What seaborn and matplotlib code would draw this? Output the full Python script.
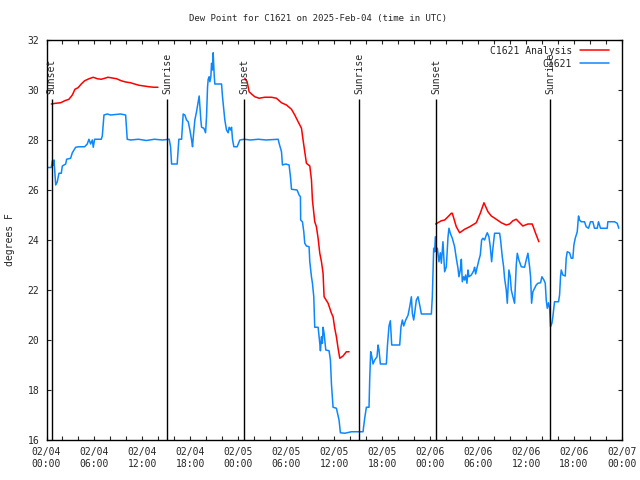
import pandas as pd
import numpy as np
import seaborn as sns
import matplotlib.pyplot as plt
from matplotlib.ticker import MultipleLocator

# hours since 02/04 00:00 UTC
sunset_hours = [0.65, 24.7, 48.75]
sunrise_hours = [15.1, 39.1, 63.05]

xtick_labels = ["02/04\n00:00", "02/04\n06:00", "02/04\n12:00", "02/04\n18:00",
                "02/05\n00:00", "02/05\n06:00", "02/05\n12:00", "02/05\n18:00",
                "02/06\n00:00", "02/06\n06:00", "02/06\n12:00", "02/06\n18:00",
                "02/07\n00:00"]

# C1621 observations
obs_hours = [0.19, 0.60, 0.73, 0.85, 0.94, 1.15, 1.35, 1.56, 1.85, 1.98, 2.40, 2.52, 3.02, 3.23,
             3.65, 4.06, 4.77, 5.10, 5.31, 5.52, 5.73, 5.85, 6.02, 6.85, 6.98, 7.19, 7.60, 8.02,
             9.27, 9.90, 10.10, 10.52, 11.5, 12.5, 13.5, 14.5, 15.35, 15.52, 15.65, 16.35, 16.56,
             16.90, 17.10, 17.31, 17.52, 17.73, 17.94, 18.15, 18.27, 18.35, 18.56, 18.77, 18.98,
             19.10, 19.19, 19.31, 19.40, 19.69, 19.90, 20.02, 20.15, 20.23, 20.35, 20.44, 20.56,
             20.65, 20.77, 20.85, 20.98, 21.06, 21.90, 22.02, 22.31, 22.52, 22.73, 22.85, 23.02,
             23.15, 23.27, 23.44, 23.85, 24.19, 24.73, 25.5, 26.5, 27.5, 28.98, 29.10, 29.40,
             29.52, 29.94, 30.35, 30.52, 30.65, 31.35, 31.60, 31.77, 31.80, 32.02, 32.19, 32.31,
             32.52, 32.85, 32.94, 33.15, 33.27, 33.44, 33.56, 33.98, 34.19, 34.27, 34.40, 34.52,
             34.60, 34.73, 34.94, 35.35, 35.52, 35.65, 35.85, 36.27, 36.60, 36.77, 37.31, 38.15,
             39.60, 39.81, 40.02, 40.35, 40.44, 40.56, 40.69, 40.85, 41.06, 41.35, 41.48, 41.60,
             41.77, 42.52, 42.65, 42.85, 43.02, 43.19, 44.19, 44.35, 44.52, 44.69, 44.94, 45.23,
             45.44, 45.65, 45.77, 45.94, 46.06, 46.27, 46.48, 46.69, 46.90, 48.15, 48.27, 48.44,
             48.56, 48.65, 48.77, 48.90, 49.10, 49.27, 49.40, 49.60, 49.81, 50.02, 50.23, 50.35,
             50.52, 50.77, 51.06, 51.27, 51.48, 51.60, 51.77, 51.90, 52.02, 52.19, 52.31, 52.44,
             52.60, 52.73, 52.85, 53.15, 53.44, 53.56, 53.69, 53.85, 54.10, 54.27, 54.44, 54.60,
             54.81, 55.02, 55.15, 55.35, 55.52, 55.69, 55.85, 56.06, 56.69, 56.81, 57.02, 57.19,
             57.31, 57.52, 57.65, 57.85, 58.02, 58.15, 58.35, 58.56, 58.77, 58.90, 59.10, 59.40,
             59.81, 60.02, 60.23, 60.44, 60.56, 60.69, 60.85, 61.06, 61.27, 61.48, 61.81, 61.98,
             62.23, 62.40, 62.52, 62.65, 62.81, 62.94, 63.02, 63.06, 63.23, 63.35, 63.56, 64.06,
             64.19, 64.31, 64.40, 64.60, 64.90, 65.02, 65.15, 65.44, 65.65, 65.85, 65.98, 66.15,
             66.40, 66.56, 66.69, 66.90, 67.31, 67.52, 67.81, 68.06, 68.35, 68.56, 68.90, 69.06,
             69.31, 70.15, 70.23, 71.06, 71.40, 71.60]
obs_dew = [26.9, 26.9, 27.17, 27.0, 27.2, 26.2, 26.33, 26.67, 26.67, 26.96, 27.04, 27.23, 27.27, 27.49,
           27.71, 27.73, 27.73, 27.84, 28.03, 27.84, 28.0, 27.71, 28.03, 28.03, 28.16, 29.0, 29.04, 29.0,
           29.04, 29.0, 28.03, 28.0, 28.03, 27.98, 28.03, 28.0, 28.03, 27.73, 27.04, 27.04, 28.03,
           28.03, 29.04, 29.0, 28.8, 28.73, 28.4, 28.0, 27.73, 28.07, 28.8, 29.13, 29.53,
           29.76, 29.33, 28.8, 28.51, 28.47, 28.29, 28.93, 30.13, 30.43, 30.53, 30.33, 30.53,
           31.07, 30.8, 31.49, 30.6, 30.24, 30.24, 29.73, 28.8, 28.4, 28.29, 28.51, 28.4,
           28.51, 28.03, 27.73, 27.73, 28.0, 28.03, 28.0, 28.03, 28.0, 28.03, 27.87, 27.53,
           27.0, 27.04, 27.0, 26.53, 26.03, 26.0, 25.8, 25.73, 24.8, 24.73, 24.33, 23.87,
           23.76, 23.73, 23.13, 22.53, 22.27, 21.73, 20.51, 20.51, 19.87, 19.57, 20.13, 19.87,
           20.51, 20.27, 19.6, 19.57, 19.2, 18.24, 17.31, 17.27, 16.8, 16.29, 16.27, 16.33,
           16.33, 16.87, 17.31, 17.31, 18.47, 19.53, 19.36, 19.04, 19.2, 19.33, 19.8, 19.6,
           19.04, 19.04, 19.76, 20.56, 20.77, 19.8, 19.8, 20.53, 20.8, 20.56, 20.8, 20.99,
           21.33, 21.73, 21.07, 20.8, 21.07, 21.6, 21.73, 21.4, 21.04, 21.04, 21.73, 23.67,
           23.53, 24.13, 23.53, 23.67, 23.13, 23.49, 23.07, 23.93, 22.73, 22.93, 24.11, 24.47,
           24.27, 24.07, 23.73, 23.27, 22.87, 22.53, 22.8, 23.23, 22.33, 22.53, 22.4, 22.6,
           22.27, 22.8, 22.53, 22.6, 22.77, 22.91, 22.64, 22.87, 23.2, 23.4, 24.0, 24.07,
           24.0, 24.2, 24.29, 24.13, 23.73, 23.13, 23.67, 24.27, 24.27, 24.0, 23.33, 22.93,
           22.47, 22.0, 21.47, 22.8, 22.53, 22.0, 21.73, 21.47, 23.0, 23.47, 23.2, 22.93,
           22.91, 23.2, 23.47, 22.93, 22.53, 21.47, 21.93, 22.07, 22.2, 22.27, 22.29, 22.53,
           22.4, 22.27, 21.6, 21.27, 21.49, 21.27, 20.8, 20.53, 20.67, 20.93, 21.53, 21.53,
           21.8, 22.53, 22.8, 22.6, 22.56, 23.27, 23.53, 23.49, 23.27, 23.27, 23.8, 24.07,
           24.33, 24.96, 24.8, 24.73, 24.73, 24.53, 24.47, 24.73, 24.73, 24.47, 24.47, 24.73,
           24.47, 24.47, 24.73, 24.73, 24.67, 24.47]

# C1621 Analysis (three separate runs)
ana_hours_1 = [0.60, 1.15, 1.77, 2.27, 2.81, 3.23, 3.56, 3.94, 4.35, 4.77, 5.31, 5.85, 6.35, 6.85,
               7.40, 7.69, 8.23, 8.77, 9.35, 9.90, 10.52, 11.02, 11.56, 12.19, 12.81, 13.44, 13.94]
ana_dew_1 = [29.44, 29.47, 29.49, 29.57, 29.63, 29.8, 30.03, 30.09, 30.24, 30.37, 30.45, 30.51, 30.45, 30.43,
             30.48, 30.51, 30.48, 30.45, 30.37, 30.32, 30.29, 30.24, 30.19, 30.16, 30.13, 30.11, 30.11]
ana_hours_2 = [24.81, 25.10, 25.35, 25.65, 26.06, 26.60, 27.31, 28.15, 28.77, 29.40, 30.02, 30.65, 31.06,
               31.48, 31.90, 32.10, 32.31, 32.52, 32.94, 33.15, 33.27, 33.56, 33.77, 33.98, 34.19, 34.40,
               34.60, 34.73, 35.23, 35.65, 35.85, 36.06, 36.27, 36.48, 36.69, 37.10, 37.52, 37.85]
ana_dew_2 = [30.47, 30.33, 29.93, 29.84, 29.73, 29.67, 29.71, 29.71, 29.67, 29.49, 29.40, 29.23, 29.0,
             28.73, 28.47, 28.0, 27.53, 27.07, 26.96, 26.4, 25.6, 24.73, 24.53, 24.07, 23.47, 23.13,
             22.67, 21.73, 21.47, 21.07, 20.93, 20.47, 20.13, 19.67, 19.27, 19.36, 19.53, 19.53]
ana_hours_3 = [48.69, 49.40, 49.81, 50.23, 50.65, 50.77, 51.27, 51.69, 52.31, 52.94, 53.77, 54.27, 54.73,
               55.23, 55.65, 56.27, 56.90, 57.52, 57.94, 58.35, 58.77, 59.19, 59.60, 60.23, 60.77, 61.19, 61.60]
ana_dew_3 = [24.64, 24.77, 24.80, 24.93, 25.07, 25.07, 24.53, 24.29, 24.43, 24.53, 24.69, 25.07, 25.49,
             25.13, 24.96, 24.83, 24.69, 24.60, 24.64, 24.77, 24.83, 24.69, 24.56, 24.64, 24.64, 24.27, 23.93]

red = "#ff0000"
blue = "#0d87ff"

sns.set_style("ticks")
plt.rcParams['font.family'] = ['DejaVu Sans Mono']
plt.rcParams['font.size'] = 7

fig = plt.figure(figsize=(6.4, 4.8), dpi=100)
ax = fig.add_axes([46.5 / 640, 40 / 480, 575.5 / 640, 400 / 480])

segments = [(ana_hours_1, ana_dew_1), (ana_hours_2, ana_dew_2), (ana_hours_3, ana_dew_3)]
for i, (h, d) in enumerate(segments):
    seg = pd.DataFrame({'hour': h, 'dew': d})
    sns.lineplot(data=seg, x='hour', y='dew', color=red, lw=1.1, sort=False, estimator=None,
                 label='C1621 Analysis' if i == 0 else None, ax=ax)

obs = pd.DataFrame({'hour': obs_hours, 'dew': obs_dew})
sns.lineplot(data=obs, x='hour', y='dew', color=blue, lw=1.1, sort=False, estimator=None,
             label='C1621', ax=ax)

for h in sunset_hours:
    ax.vlines(h, 16, 29.65, color='black', lw=1)
    ax.text(h, 29.82, 'Sunset', rotation=90, ha='center', va='bottom')
for h in sunrise_hours:
    ax.vlines(h, 16, 29.65, color='black', lw=1)
    ax.text(h, 29.82, 'Sunrise', rotation=90, ha='center', va='bottom')

ax.set_xlim(0, 72)
ax.set_ylim(16, 32)
ax.set_xticks(np.arange(0, 73, 6))
ax.set_xticklabels(xtick_labels)
ax.xaxis.set_minor_locator(MultipleLocator(2))
ax.set_yticks(np.arange(16, 33, 2))
ax.tick_params(which='both', direction='in', top=True, right=True, length=3, width=0.8, pad=5)
for s in ax.spines.values():
    s.set_linewidth(1)
    s.set_color('black')

ax.set_xlabel('')
ax.set_ylabel('degrees F')
ax.yaxis.set_label_coords(-0.055, 0.5)

handles, labels = ax.get_legend_handles_labels()
ax.legend(handles, labels, loc='upper right', bbox_to_anchor=(1 - 7 / 575.5, 1),
          markerfirst=False, frameon=False,
          handlelength=3.0, handletextpad=0.8, labelspacing=0.3, borderaxespad=0.3, borderpad=0.3)

fig.text(0.497, 1 - 19 / 480, 'Dew Point for C1621 on 2025-Feb-04 (time in UTC)',
         ha='center', va='center', fontsize=6.5)

fig.savefig('out.png', dpi=100)
